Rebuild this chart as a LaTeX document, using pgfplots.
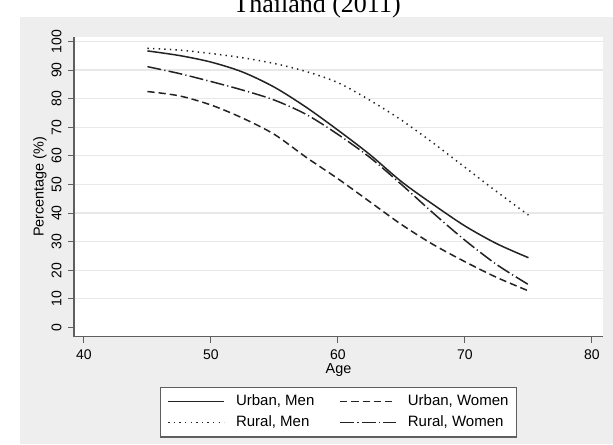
\documentclass[border=0pt]{standalone}
\usepackage{fontspec}
\setmainfont{Liberation Sans}
\newfontfamily\titlefont{Liberation Serif}
\usepackage{pgfplots}
\pgfplotsset{compat=1.18}

\definecolor{panelgray}{RGB}{238,238,238}
\definecolor{gridgray}{RGB}{232,232,232}
\definecolor{axisgray}{RGB}{95,95,95}
\definecolor{curve}{RGB}{35,35,35}

\begin{document}
\begin{tikzpicture}[x=1pt,y=1pt]
  % page and grey panel
  \fill[white] (0,0) rectangle (306.5,222);
  \fill[panelgray] (10,0) rectangle (306.5,213.65);
  \node[font=\titlefont\fontsize{13}{13}\selectfont, anchor=base] at (158.5,215.5) {Thailand (2011)};

  \begin{axis}[
      at={(37pt,53.75pt)}, anchor=south west,
      scale only axis, width=264.5pt, height=149.75pt,
      xmin=39.216, xmax=80.87, ymin=-3.15, ymax=101.57,
      axis x line*=bottom, axis y line*=left,
      axis line style={axisgray, line width=0.6pt},
      axis background/.style={fill=white},
      xtick={40,50,...,80}, ytick={10,20,...,100},
      extra y ticks={0}, extra y tick style={grid=none},
      ymajorgrids, grid style={gridgray, line width=0.6pt},
      tick align=outside, major tick length=3pt,
      tick style={axisgray, line width=0.5pt},
      /pgf/number format/assume math mode=true,
      tick label style={font=\fontsize{7}{8}\selectfont},
      xticklabel style={anchor=north, inner sep=3.2pt},
      yticklabel style={rotate=90, anchor=south, inner sep=3pt},
      every axis x label/.style={at={(axis description cs:0.5,-0.1229)}, anchor=base,
        font=\fontsize{7.2}{8}\selectfont},
      every axis y label/.style={at={(axis description cs:-0.0643,0.5)}, rotate=90, anchor=center,
        font=\fontsize{7.2}{8}\selectfont},
      xlabel={Age}, ylabel={Percentage (\%)},
      no markers,
      every axis plot/.append style={curve, line width=0.75pt, smooth},
      legend columns=2,
      legend cell align=left,
      legend image code/.code={\draw[#1] (0pt,0pt) -- (28pt,0pt);},
      legend style={at={(axis description cs:0.5,-0.1672)}, anchor=north,
        draw=axisgray, fill=white, line width=0.6pt,
        font=\fontsize{7.5}{8}\selectfont,
        inner xsep=3.7pt, inner ysep=3.2pt,
        /tikz/row sep=2.5pt,
        /tikz/every odd column/.append style={column sep=5pt},
        /tikz/every even column/.append style={column sep=12pt},
        nodes={inner sep=0.5pt, text height=5.5pt, text depth=1.5pt}},
    ]

    % Urban, Men
    \addplot[solid] coordinates {
      (45,96.7) (47.5,95.1) (50,92.8) (52.5,89.3) (55,84) (57.5,77)
      (60,69) (62.5,60.5) (65,51) (67.5,43) (70,35.5) (72.5,29.3) (75,24.4)
    };
    \addlegendentry{Urban, Men}

    % Urban, Women
    \addplot[dash pattern=on 3.6pt off 2pt] coordinates {
      (45,82.5) (47.5,81) (50,77.8) (52.5,73.2) (55,67.5) (57.5,59.5)
      (60,52) (62.5,44) (65,36) (67.5,29) (70,23) (72.5,17.5) (75,12.8)
    };
    \addlegendentry{Urban, Women}

    % Rural, Men
    \addplot[dash pattern=on 0.7pt off 2.1pt] coordinates {
      (45,97.6) (47.5,97) (50,95.8) (52.5,94.3) (55,92.3) (57.5,89.5)
      (60,85.6) (62.5,79.5) (65,72.5) (67.5,64.5) (70,56) (72.5,47.5) (75,39.3)
    };
    \addlegendentry{Rural, Men}

    % Rural, Women
    \addplot[dash pattern=on 7pt off 1.6pt on 0.6pt off 1.6pt] coordinates {
      (45,91.2) (47.5,88.8) (50,86) (52.5,83) (55,79.5) (57.5,74.5)
      (60,67.5) (62.5,59.5) (65,50) (67.5,40) (70,30.5) (72.5,22) (75,15)
    };
    \addlegendentry{Rural, Women}
  \end{axis}

  \pgfresetboundingbox
  \path[use as bounding box] (0,0) rectangle (306.5,222);
\end{tikzpicture}
\end{document}
